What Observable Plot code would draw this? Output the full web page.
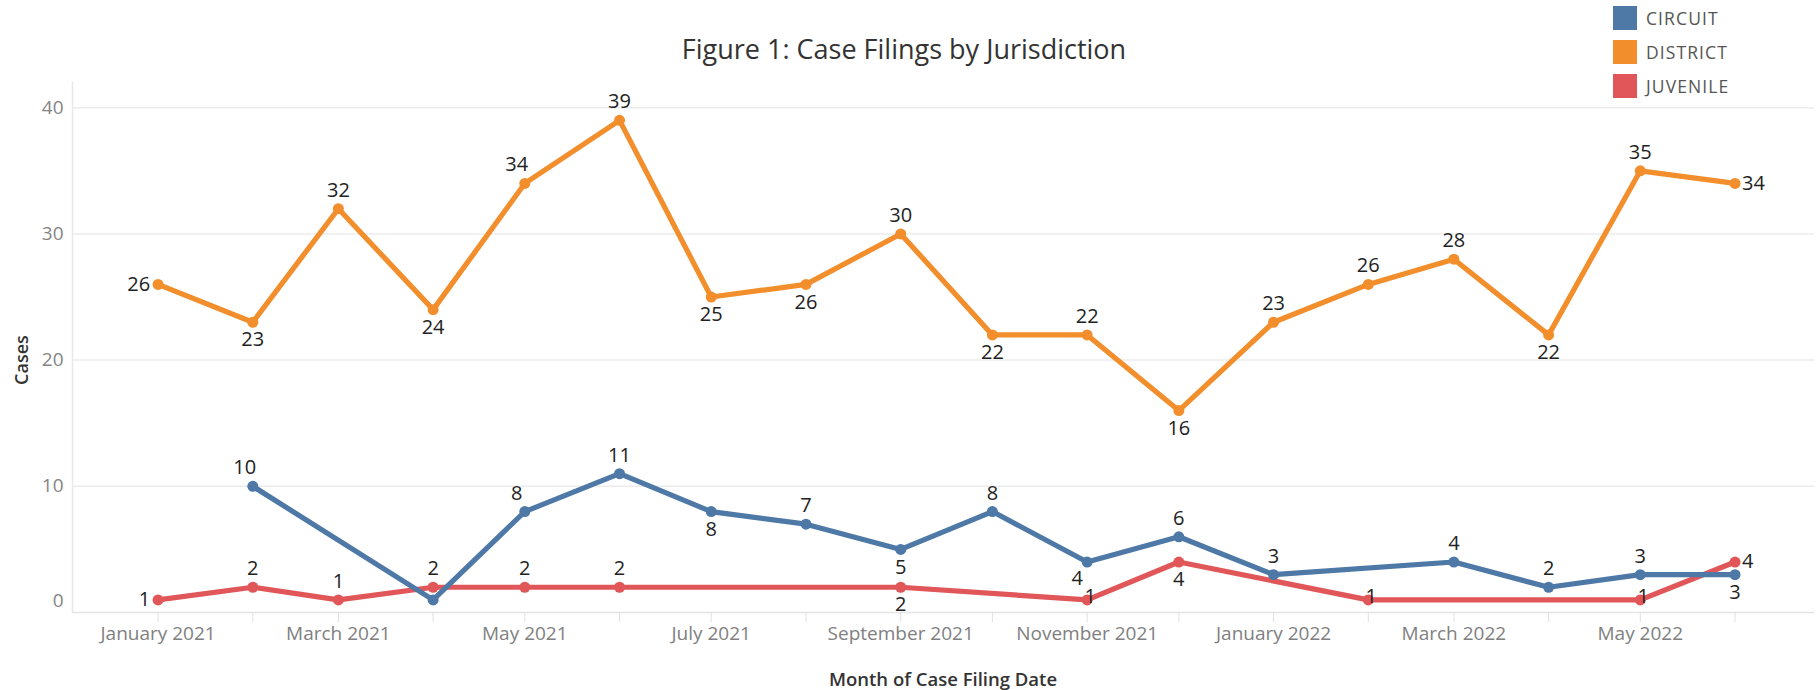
<!DOCTYPE html>
<html>
<head>
<meta charset="utf-8">
<script src="https://cdn.jsdelivr.net/npm/d3@7"></script>
<script src="https://cdn.jsdelivr.net/npm/@observablehq/plot@0.6"></script>
<style>
  body { margin: 0; background: #fff; font-family: "Open Sans", sans-serif; }
  #wrap { position: relative; width: 1818px; height: 690px; overflow: hidden; }
  #title { position: absolute; left: 0; width: 1808px; top: 31px; text-align: center; font-size: 27px; color: #333; line-height: 36px; }
  #legend { position: absolute; left: 1613px; top: 6px; }
  .item { display: flex; align-items: center; height: 24px; margin-bottom: 10px; }
  .sw { width: 24px; height: 24px; margin-right: 9px; }
  .lab { font-size: 17.5px; color: #555; letter-spacing: 1.1px; }
  #ytitle { position: absolute; left: 21px; top: 360px; transform: translate(-50%, -50%) rotate(-90deg); font-size: 18px; font-weight: 600; color: #333; white-space: nowrap; }
  #xtitle { position: absolute; left: 943px; top: 678px; transform: translate(-50%, -50%); font-size: 18.5px; font-weight: 600; color: #333; white-space: nowrap; }
</style>
</head>
<body>
<div id="wrap">
  <div id="chart"></div>
  <div id="title">Figure 1: Case Filings by Jurisdiction</div>
  <div id="legend"></div>
  <div id="ytitle">Cases</div>
  <div id="xtitle">Month of Case Filing Date</div>
</div>
<script>
// ---- data ----
const months = ["2021-01-01","2021-02-01","2021-03-01","2021-04-01","2021-05-01","2021-06-01",
  "2021-07-01","2021-08-01","2021-09-01","2021-10-01","2021-11-01","2021-12-01",
  "2022-01-01","2022-02-01","2022-03-01","2022-04-01","2022-05-01","2022-06-01"];
const seriesNames = ["CIRCUIT", "DISTRICT", "JUVENILE"];
const seriesColors = ["#4e79a7", "#f28e2b", "#e15759"];
const circuit  = [null, 10, null, 1, 8, 11, 8, 7, 5, 8, 4, 6, 3, null, 4, 2, 3, 3];
const district = [26, 23, 32, 24, 34, 39, 25, 26, 30, 22, 22, 16, 23, 26, 28, 22, 35, 34];
const juvenile = [1, 2, 1, 2, 2, 2, null, null, 2, null, 1, 4, null, 1, null, null, 1, 4];
const yTicks = [0, 10, 20, 30, 40];
const xTickLabels = ["January 2021","March 2021","May 2021","July 2021","September 2021","November 2021","January 2022","March 2022","May 2022"];

// label placement (where Tableau put each mark label)
const circuitLabelPos  = [null,"topleft",null,"hide","topleft","top","bottom","top","bottom","top","bottomleft","top","top",null,"top","top","top","bottom"];
const districtLabelPos = ["left","bottom","top","bottom","topleft","top","bottom","bottom","top","bottom","top","bottom","top","top","top","bottom","top","right"];
const juvenileLabelPos = ["left","top","top","top","top","top",null,null,"bottom",null,"center","bottom",null,"center",null,null,"center","right"];

// ---- build table ----
const parse = d3.utcParse("%Y-%m-%d");
const seriesValues = [circuit, district, juvenile];
const labelPos = [circuitLabelPos, districtLabelPos, juvenileLabelPos];
const rows = [];
seriesNames.forEach((s, i) => {
  seriesValues[i].forEach((v, j) => {
    if (v != null) rows.push({date: parse(months[j]), value: v, series: s, pos: labelPos[i][j]});
  });
});
const colorOf = Object.fromEntries(seriesNames.map((s, i) => [s, seriesColors[i]]));
const drawOrder = ["JUVENILE", "CIRCUIT", "DISTRICT"];

// legend
const legend = document.getElementById("legend");
seriesNames.forEach((s, i) => {
  const it = document.createElement("div"); it.className = "item";
  it.innerHTML = `<div class="sw" style="background:${seriesColors[i]}"></div><div class="lab">${s}</div>`;
  legend.appendChild(it);
});

const fmt = d3.utcFormat("%B %Y");
const monthTicks = months.map(parse);
const labelTicks = monthTicks.filter(d => xTickLabels.includes(fmt(d)));

const lineMarks = drawOrder.flatMap(s => {
  const data = rows.filter(r => r.series === s);
  return [
    Plot.line(data, {x: "date", y: "value", stroke: colorOf[s], strokeWidth: 5.2, strokeLinejoin: "round"}),
    Plot.dot(data, {x: "date", y: "value", fill: colorOf[s], r: 5.5})
  ];
});

const textCommon = {x: "date", y: "value", text: d => String(d.value), fill: "#222", fontSize: 20};
const labelMarks = [
  Plot.text(rows.filter(r => r.pos === "top"), {...textCommon, lineAnchor: "bottom", dy: -12}),
  Plot.text(rows.filter(r => r.pos === "topleft"), {...textCommon, lineAnchor: "bottom", dy: -12, dx: -8}),
  Plot.text(rows.filter(r => r.pos === "bottom"), {...textCommon, lineAnchor: "top", dy: 10}),
  Plot.text(rows.filter(r => r.pos === "bottomleft"), {...textCommon, lineAnchor: "top", dy: 9, dx: -10}),
  Plot.text(rows.filter(r => r.pos === "left"), {...textCommon, textAnchor: "end", dx: -8}),
  Plot.text(rows.filter(r => r.pos === "right"), {...textCommon, textAnchor: "start", dx: 7}),
  Plot.text(rows.filter(r => r.pos === "center"), {...textCommon, dx: 3, dy: -3})
];

const chart = Plot.plot({
  width: 1818,
  height: 690,
  marginLeft: 72,
  marginRight: 4,
  marginTop: 82,
  marginBottom: 78,
  style: {fontFamily: "'Open Sans', sans-serif", background: "#fff"},
  x: {type: "utc", domain: [parse("2020-12-04"), parse("2022-06-27")]},
  y: {domain: [0, 42]},
  marks: [
    Plot.gridY(yTicks.filter(t => t > 0), {stroke: "#ececec", strokeOpacity: 1, strokeWidth: 1.5}),
    Plot.ruleY([0], {stroke: "#e4e4e4", strokeWidth: 1.5}),
    Plot.frame({anchor: "left", stroke: "#e8e8e8", strokeWidth: 1.5}),
    Plot.axisY(yTicks.filter(t => t > 0), {tickSize: 0, tickPadding: 9, fontSize: 19, color: "#858585", label: null}),
    Plot.axisY([0], {tickSize: 0, tickPadding: 9, fontSize: 19, color: "#858585", dy: -12, label: null}),
    Plot.axisX(monthTicks, {tickSize: 10, tickFormat: () => "", stroke: "#e0e0e0", label: null}),
    Plot.axisX(labelTicks, {tickSize: 0, tickPadding: 14, fontSize: 19, color: "#808080", tickFormat: fmt, label: null}),
    ...lineMarks,
    ...labelMarks
  ]
});
document.getElementById("chart").appendChild(chart);
</script>
</body>
</html>
